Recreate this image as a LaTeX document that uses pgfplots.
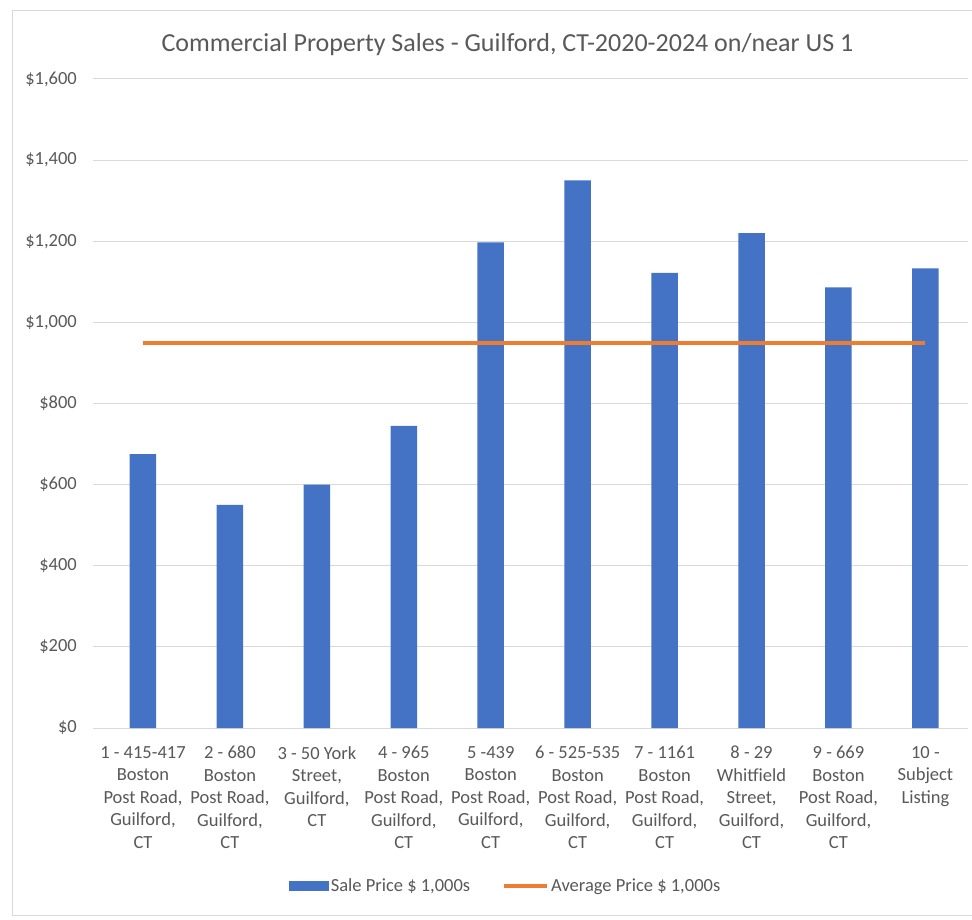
\documentclass[border=0pt]{standalone}
\usepackage{fontspec}
\setmainfont{Carlito}
\usepackage{pgfplots}
\pgfplotsset{compat=1.18}
\definecolor{barblue}{HTML}{4472C4}
\definecolor{lineorange}{HTML}{ED7D31}
\definecolor{txtgray}{HTML}{595959}
\definecolor{gridgray}{HTML}{D9D9D9}
\begin{document}
\begin{tikzpicture}[x=1pt,y=1pt]
\useasboundingbox (0,0) rectangle (972,919);
\fill[white] (0,0) rectangle (972,919);
\draw[gridgray, line width=1pt] (973,4) -- (12,4) -- (12,908) -- (973,908);
\begin{axis}[
  at={(93pt,191pt)}, anchor=south west,
  scale only axis, width=875pt, height=649pt,
  xmin=-0.575, xmax=9.49, ymin=0, ymax=1600,
  axis line style={draw=none},
  ymajorgrids, grid style={gridgray, line width=1pt},
  major tick length=0pt,
  ytick={0,200,...,1600},
  yticklabels={\$0,\$200,\$400,\$600,\$800,{\$1,000},{\$1,200},{\$1,400},{\$1,600}},
  xtick={0,...,9},
  xticklabels={
    {1 - 415-417\\Boston\\Post Road,\\Guilford,\\CT},
    {2 - 680\\Boston\\Post Road,\\Guilford,\\CT},
    {3 - 50 York\\Street,\\Guilford,\\CT},
    {4 - 965\\Boston\\Post Road,\\Guilford,\\CT},
    {5 -439\\Boston\\Post Road,\\Guilford,\\CT},
    {6 - 525-535\\Boston\\Post Road,\\Guilford,\\CT},
    {7 - 1161\\Boston\\Post Road,\\Guilford,\\CT},
    {8 - 29\\Whitfield\\Street,\\Guilford,\\CT},
    {9 - 669\\Boston\\Post Road,\\Guilford,\\CT},
    {10 -\\Subject\\Listing}},
  tick label style={font=\fontsize{18.5}{22.5}\selectfont, text=txtgray},
  xticklabel style={align=center, anchor=north, inner sep=0pt, yshift=-18pt},
  yticklabel style={anchor=east, inner sep=0pt, xshift=-16pt},
  title={Commercial Property Sales - Guilford, CT-2020-2024 on/near US 1},
  title style={at={(0.4737,1.0324)}, anchor=base, font=\fontsize{26}{30}\selectfont, text=txtgray},
  legend columns=2,
  legend style={at={(0.4714,-0.2435)}, anchor=center, draw=none, fill=none,
    font=\fontsize{18.5}{22}\selectfont, text=txtgray,
    /tikz/every even column/.append style={column sep=30pt}},
]
\addplot[ybar, bar width=26.5pt, bar shift=0pt, fill=barblue, draw=none,
  legend image code/.code={\fill[barblue] (0pt,-5pt) rectangle (40pt,5pt);}]
  coordinates {(0,675) (1,550) (2,600) (3,745) (4,1197) (5,1350) (6,1122) (7,1220) (8,1086) (9,1133)};
\addlegendentry{Sale Price \$ 1,000s}
\addplot[lineorange, line width=4pt, mark=none,
  legend image code/.code={\draw[lineorange, line width=4pt] (0pt,0pt) -- (43pt,0pt);}]
  coordinates {(0,949.4) (1,949.4) (2,949.4) (3,949.4) (4,949.4) (5,949.4) (6,949.4) (7,949.4) (8,949.4) (9,949.4)};
\addlegendentry{Average Price \$ 1,000s}
\end{axis}
\end{tikzpicture}
\end{document}
